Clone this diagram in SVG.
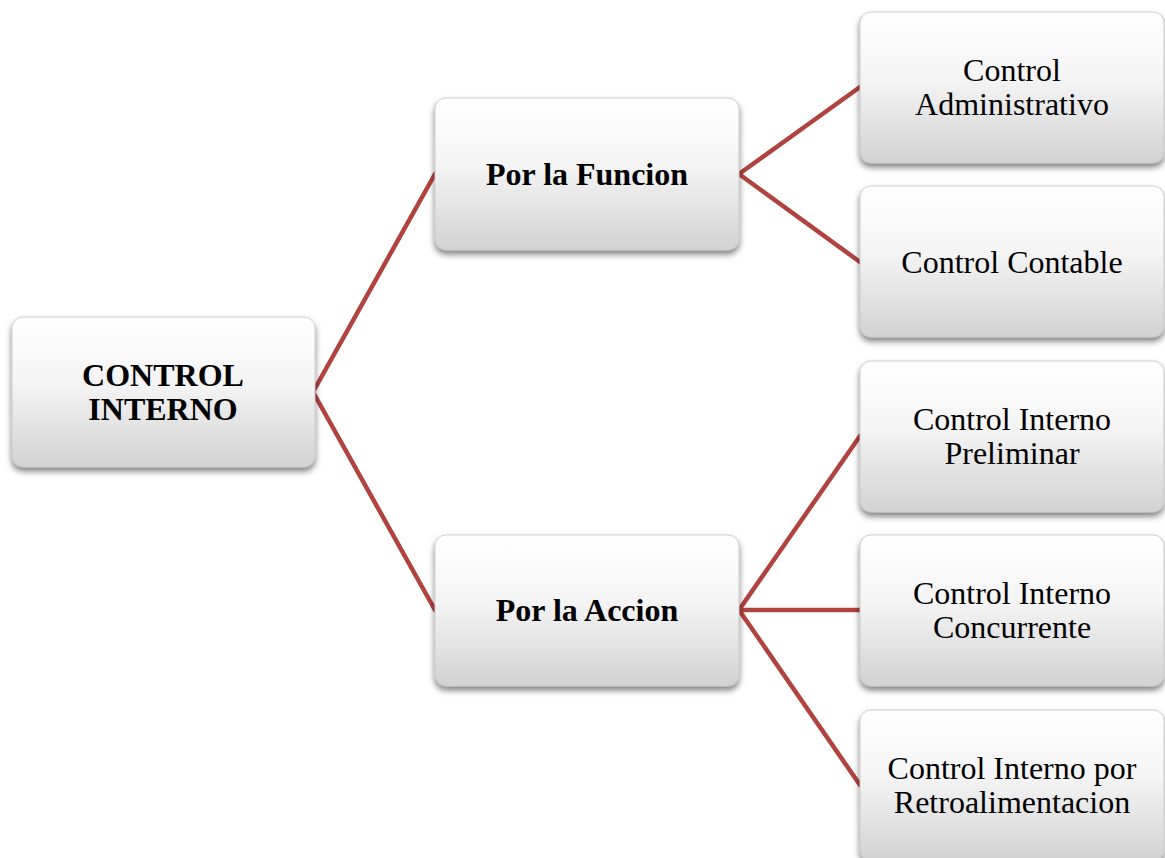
<svg xmlns="http://www.w3.org/2000/svg" width="1165" height="858" viewBox="0 0 1165 858">
<defs>
<linearGradient id="g" x1="0" y1="0" x2="0" y2="1">
<stop offset="0" stop-color="#ffffff"/>
<stop offset="0.45" stop-color="#f4f4f4"/>
<stop offset="1" stop-color="#d2d2d2"/>
</linearGradient>
<filter id="sh" x="-10%" y="-10%" width="120%" height="130%">
<feDropShadow dx="0" dy="4" stdDeviation="3" flood-color="#000" flood-opacity="0.5"/>
</filter>
</defs>
<style>
.box{fill:url(#g);stroke:#c4c4c4;stroke-width:0.8;filter:url(#sh)}
.t{font-family:"Liberation Serif","Times New Roman",serif;font-size:32px;fill:#000;text-anchor:middle}
.b{font-weight:bold}
.c{stroke:#b0433f;stroke-width:4.5;fill:none;stroke-linecap:round}
</style>
<rect width="1165" height="858" fill="#ffffff"/>
<g id="connectors">
<line class="c" x1="313" y1="392" x2="435" y2="174"/>
<line class="c" x1="313" y1="392" x2="435" y2="610"/>
<line class="c" x1="739" y1="174" x2="860" y2="87"/>
<line class="c" x1="739" y1="174" x2="860" y2="262"/>
<line class="c" x1="739" y1="610" x2="860" y2="436"/>
<line class="c" x1="739" y1="610" x2="860" y2="610"/>
<line class="c" x1="739" y1="610" x2="860" y2="785"/>
</g>
<g id="root">
<rect class="box" x="12" y="317" width="303" height="150" rx="11"/>
<text class="t b" x="163" y="386">CONTROL</text>
<text class="t b" x="163" y="420">INTERNO</text>
</g>
<g id="funcion">
<rect class="box" x="435" y="98" width="304" height="152" rx="11"/>
<text class="t b" x="587" y="185">Por la Funcion</text>
</g>
<g id="accion">
<rect class="box" x="435" y="535" width="304" height="151" rx="11"/>
<text class="t b" x="587" y="621">Por la Accion</text>
</g>
<g id="administrativo">
<rect class="box" x="860" y="12" width="304" height="151" rx="11"/>
<text class="t" x="1012" y="81">Control</text>
<text class="t" x="1012" y="115">Administrativo</text>
</g>
<g id="contable">
<rect class="box" x="860" y="186" width="304" height="151" rx="11"/>
<text class="t" x="1012" y="273">Control Contable</text>
</g>
<g id="preliminar">
<rect class="box" x="860" y="361" width="304" height="151" rx="11"/>
<text class="t" x="1012" y="430">Control Interno</text>
<text class="t" x="1012" y="464">Preliminar</text>
</g>
<g id="concurrente">
<rect class="box" x="860" y="535" width="304" height="151" rx="11"/>
<text class="t" x="1012" y="604">Control Interno</text>
<text class="t" x="1012" y="638">Concurrente</text>
</g>
<g id="retroalimentacion">
<rect class="box" x="860" y="710" width="304" height="151" rx="11"/>
<text class="t" x="1012" y="779">Control Interno por</text>
<text class="t" x="1012" y="813">Retroalimentacion</text>
</g>
</svg>
